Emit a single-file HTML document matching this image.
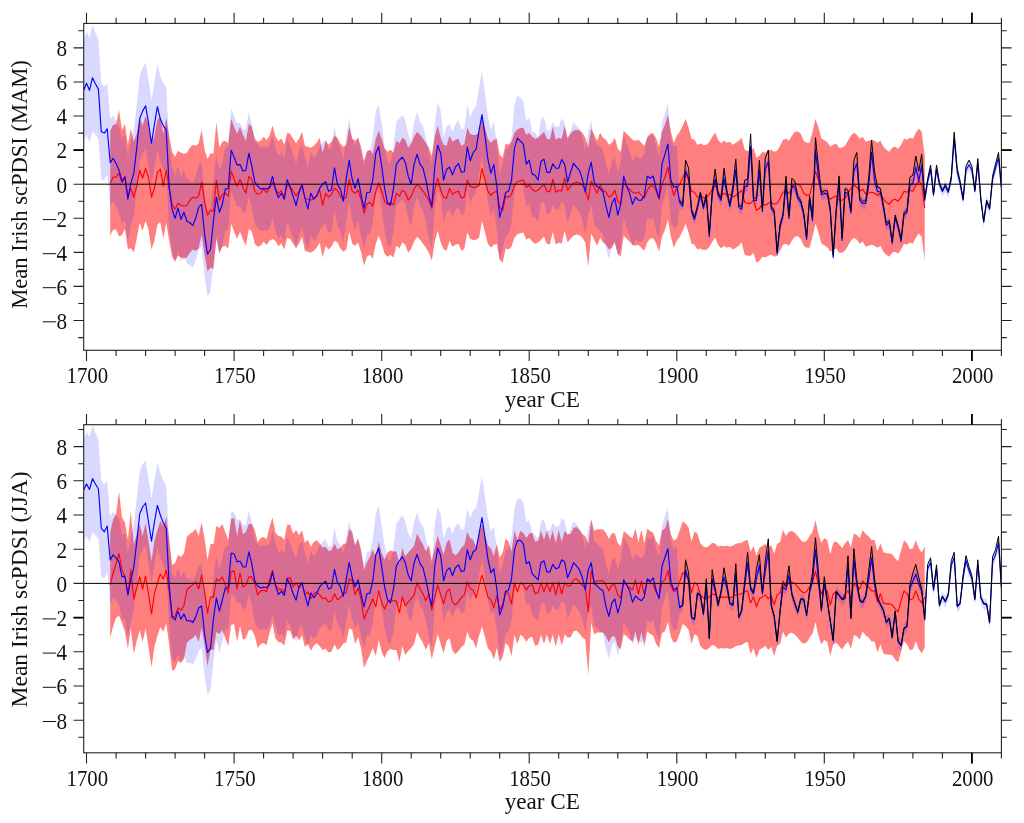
<!DOCTYPE html>
<html><head><meta charset="utf-8"><title>Mean Irish scPDSI</title>
<style>
html,body{margin:0;padding:0;background:#fff;}
body{width:1024px;height:823px;overflow:hidden;}
svg{display:block;}
text{font-family:"Liberation Serif",serif;font-size:21.2px;fill:#111;}
</style></head><body>
<svg width="1024" height="823" viewBox="0 0 1024 823">
<defs><filter id="gs" x="0" y="0" width="1024" height="823" filterUnits="userSpaceOnUse" color-interpolation-filters="sRGB"><feColorMatrix type="saturate" values="0"/></filter></defs>
<rect width="1024" height="823" fill="#fff"/>
<clipPath id="c1"><rect x="83.7" y="23.4" width="917.7" height="326.9"/></clipPath>
<g clip-path="url(#c1)">
<polygon points="110.2,130.7 113.1,124.7 116.1,124.4 119.0,109.7 122.0,130.2 124.9,123.7 127.9,144.7 130.8,128.6 133.8,141.8 136.7,133.8 139.7,117.7 142.6,125.8 145.6,115.7 148.5,124.7 151.5,144.7 154.4,135.8 157.4,119.8 160.3,116.7 163.3,133.8 166.2,117.7 169.2,135.8 172.1,151.8 175.1,156.8 178.0,150.8 181.0,152.7 183.9,153.7 186.9,152.7 189.8,147.7 192.8,144.7 195.7,145.7 198.7,143.6 201.6,129.7 204.6,149.8 207.5,159.0 210.5,153.2 213.5,153.4 216.4,122.2 219.4,147.7 222.3,141.8 225.3,140.7 228.2,143.6 231.2,118.8 234.1,126.8 237.1,133.8 240.0,126.8 243.0,134.8 245.9,140.7 248.9,123.7 251.8,126.8 254.8,138.7 257.7,141.8 260.7,140.7 263.6,136.7 266.6,140.1 269.5,135.8 272.5,125.4 275.4,136.1 278.4,141.3 281.3,138.2 284.3,144.7 287.2,132.7 290.2,133.8 293.1,138.7 296.1,143.3 299.0,138.7 302.0,131.7 304.9,145.7 307.9,146.7 310.8,147.7 313.8,145.7 316.7,142.8 319.7,137.7 322.6,152.7 325.6,140.7 328.5,144.7 331.5,141.8 334.5,135.8 337.4,137.7 340.4,143.6 343.3,146.7 346.3,144.7 349.2,126.8 352.2,138.7 355.1,140.7 358.1,137.7 361.0,146.7 364.0,160.7 366.9,151.8 369.9,149.8 372.8,153.7 375.8,138.7 378.7,130.7 381.7,138.7 384.6,148.8 387.6,151.8 390.5,149.8 393.5,152.7 396.4,140.7 399.4,143.6 402.3,137.7 405.3,139.7 408.2,147.7 411.2,143.6 414.1,136.7 417.1,131.7 420.0,134.8 423.0,138.7 425.9,142.8 428.9,147.7 431.8,155.7 434.8,136.7 437.7,125.8 440.7,137.7 443.6,144.7 446.6,145.7 449.5,135.8 452.5,141.8 455.4,139.7 458.4,138.7 461.4,145.7 464.3,144.2 467.3,127.6 470.2,133.9 473.2,135.0 476.1,134.8 479.1,132.7 482.0,116.0 485.0,127.6 487.9,138.7 490.9,142.8 493.8,139.7 496.8,138.7 499.7,154.7 502.7,157.8 505.6,143.6 508.6,144.7 511.5,141.8 514.5,132.7 517.4,129.3 520.4,128.3 523.3,127.6 526.3,134.8 529.2,132.7 532.2,136.7 535.1,138.7 538.1,137.7 541.0,134.8 544.0,131.7 546.9,138.7 549.9,139.4 552.8,126.8 555.8,139.7 558.7,137.7 561.7,138.7 564.6,125.8 567.6,137.7 570.5,133.8 573.5,130.7 576.4,129.7 579.4,130.2 582.4,132.7 585.3,137.7 588.3,147.7 591.2,128.6 594.2,134.8 597.1,140.7 600.1,132.7 603.0,137.7 606.0,139.7 608.9,144.7 611.9,142.8 614.8,137.7 617.8,148.8 620.7,151.8 623.7,130.7 626.6,133.8 629.6,136.7 632.5,139.7 635.5,140.7 638.4,139.7 641.4,142.8 644.3,145.7 647.3,137.7 650.2,133.4 653.2,133.3 656.1,138.2 659.1,146.7 662.0,131.7 665.0,124.7 667.9,114.7 670.9,131.7 673.8,142.8 676.8,135.8 679.7,131.7 682.7,125.8 685.6,118.8 688.6,127.6 691.5,138.7 694.5,139.7 697.4,144.7 700.4,143.6 703.4,145.0 706.3,145.0 709.3,141.9 712.2,136.8 715.2,132.4 718.1,139.9 721.1,143.3 724.0,140.7 727.0,142.8 729.9,141.8 732.9,144.7 735.8,142.8 738.8,140.7 741.7,137.7 744.7,149.8 747.6,150.8 750.6,150.8 753.5,147.7 756.5,157.8 759.4,155.7 762.4,151.8 765.3,152.7 768.3,150.8 771.2,149.8 774.2,151.8 777.1,150.8 780.1,145.7 783.0,139.7 786.0,138.7 788.9,140.7 791.9,135.8 794.8,131.7 797.8,131.4 800.7,133.8 803.7,140.7 806.6,142.8 809.6,142.8 812.5,131.7 815.5,118.8 818.4,127.6 821.4,138.5 824.3,140.2 827.3,142.3 830.3,146.7 833.2,144.7 836.2,143.6 839.1,147.7 842.1,147.7 845.0,145.7 848.0,140.7 850.9,135.8 853.9,132.7 856.8,134.8 859.8,138.7 862.7,136.7 865.7,141.8 868.6,140.7 871.6,139.7 874.5,140.7 877.5,142.8 880.4,140.7 883.4,146.7 886.3,149.8 889.3,151.8 892.2,147.7 895.2,146.7 898.1,148.8 901.1,144.7 904.0,138.7 907.0,139.7 909.9,137.7 912.9,138.7 915.8,132.7 918.8,128.6 921.7,131.7 924.7,155.7 924.7,260.7 921.7,236.7 918.8,233.6 915.8,237.7 912.9,243.7 909.9,242.6 907.0,244.7 904.0,243.7 901.1,249.6 898.1,253.7 895.2,251.7 892.2,252.7 889.3,256.8 886.3,254.7 883.4,251.7 880.4,245.7 877.5,247.8 874.5,245.7 871.6,244.7 868.6,245.7 865.7,246.7 862.7,241.6 859.8,243.7 856.8,239.8 853.9,237.7 850.9,240.8 848.0,245.7 845.0,250.7 842.1,252.7 839.1,252.7 836.2,248.6 833.2,249.6 830.3,251.7 827.3,247.2 824.3,245.2 821.4,243.5 818.4,232.6 815.5,223.7 812.5,236.7 809.6,247.8 806.6,247.8 803.7,245.7 800.7,238.7 797.8,236.3 794.8,236.7 791.9,240.8 788.9,245.7 786.0,243.7 783.0,244.7 780.1,250.7 777.1,255.8 774.2,256.8 771.2,254.7 768.3,255.8 765.3,257.6 762.4,256.8 759.4,260.7 756.5,262.8 753.5,252.7 750.6,255.8 747.6,255.8 744.7,254.7 741.7,242.6 738.8,245.7 735.8,247.8 732.9,249.6 729.9,246.7 727.0,247.8 724.0,245.7 721.1,248.3 718.1,244.9 715.2,237.4 712.2,241.8 709.3,246.9 706.3,250.0 703.4,250.0 700.4,248.6 697.4,249.6 694.5,244.7 691.5,243.7 688.6,232.6 685.6,223.7 682.7,230.7 679.7,236.7 676.8,240.8 673.8,247.8 670.9,236.7 667.9,219.6 665.0,229.7 662.0,236.7 659.1,251.7 656.1,243.2 653.2,238.2 650.2,238.4 647.3,242.6 644.3,250.7 641.4,247.8 638.4,244.7 635.5,245.7 632.5,244.7 629.6,241.6 626.6,238.7 623.7,235.7 620.7,256.8 617.8,253.7 614.8,242.6 611.9,247.8 608.9,249.6 606.0,244.7 603.0,242.6 600.1,237.7 597.1,245.7 594.2,239.8 591.2,233.6 588.3,266.8 585.3,242.6 582.4,237.7 579.4,235.1 576.4,234.6 573.5,235.7 570.5,238.7 567.6,242.6 564.6,230.7 561.7,243.7 558.7,242.6 555.8,244.7 552.8,231.7 549.9,244.4 546.9,243.7 544.0,236.7 541.0,239.8 538.1,242.6 535.1,243.7 532.2,241.6 529.2,237.7 526.3,239.8 523.3,232.6 520.4,233.3 517.4,234.3 514.5,237.7 511.5,246.7 508.6,249.6 505.6,248.6 502.7,262.8 499.7,259.7 496.8,243.7 493.8,244.7 490.9,247.8 487.9,243.7 485.0,232.6 482.0,221.0 479.1,237.7 476.1,239.8 473.2,239.9 470.2,238.9 467.3,232.6 464.3,249.1 461.4,250.7 458.4,243.7 455.4,244.7 452.5,246.7 449.5,240.8 446.6,250.7 443.6,249.6 440.7,242.6 437.7,230.7 434.8,241.6 431.8,260.7 428.9,252.7 425.9,247.8 423.0,243.7 420.0,239.8 417.1,236.7 414.1,241.6 411.2,248.6 408.2,252.7 405.3,244.7 402.3,242.6 399.4,248.6 396.4,245.7 393.5,257.6 390.5,254.7 387.6,256.8 384.6,253.7 381.7,243.7 378.7,235.7 375.8,243.7 372.8,258.7 369.9,254.7 366.9,256.8 364.0,265.7 361.0,251.7 358.1,242.6 355.1,245.7 352.2,243.7 349.2,231.7 346.3,249.6 343.3,251.7 340.4,248.6 337.4,242.6 334.5,240.8 331.5,246.7 328.5,249.6 325.6,245.7 322.6,257.6 319.7,242.6 316.7,247.8 313.8,250.7 310.8,252.7 307.9,251.7 304.9,250.7 302.0,236.7 299.0,243.7 296.1,248.3 293.1,243.7 290.2,238.7 287.2,237.7 284.3,249.6 281.3,243.2 278.4,246.2 275.4,241.1 272.5,238.9 269.5,240.8 266.6,245.0 263.6,241.6 260.7,245.7 257.7,246.7 254.8,243.7 251.8,231.7 248.9,228.7 245.9,245.7 243.0,239.8 240.0,231.7 237.1,238.7 234.1,231.7 231.2,223.7 228.2,248.6 225.3,245.7 222.3,246.7 219.4,252.7 216.4,238.0 213.5,269.2 210.5,267.4 207.5,271.4 204.6,254.7 201.6,234.6 198.7,248.6 195.7,250.7 192.8,249.6 189.8,252.7 186.9,257.6 183.9,258.7 181.0,257.6 178.0,255.8 175.1,261.7 172.1,256.8 169.2,240.8 166.2,222.7 163.3,238.7 160.3,221.7 157.4,224.8 154.4,240.8 151.5,249.6 148.5,229.7 145.6,220.7 142.6,230.7 139.7,222.7 136.7,238.7 133.8,252.5 130.8,247.9 127.9,249.6 124.9,228.7 122.0,235.1 119.0,236.5 116.1,229.4 113.1,229.7 110.2,235.7" fill="#ff0000" fill-opacity="0.5"/>
<polygon points="83.6,39.4 86.5,31.4 89.5,37.8 92.5,24.5 95.4,32.4 98.4,39.7 101.3,83.6 104.3,86.2 107.2,83.7 110.2,119.3 113.1,115.3 116.1,120.8 119.0,127.4 122.0,138.6 124.9,134.5 127.9,156.4 130.8,140.3 133.8,130.2 136.7,105.5 139.7,75.8 142.6,68.0 145.6,62.7 148.5,79.8 151.5,100.3 154.4,81.8 157.4,63.7 160.3,75.9 163.3,82.9 166.2,87.0 169.2,144.5 172.1,166.5 175.1,175.6 178.0,165.6 181.0,176.7 183.9,169.8 186.9,178.7 189.8,180.3 192.8,182.9 195.7,175.9 198.7,164.9 201.6,162.1 204.6,192.1 207.5,212.1 210.5,207.2 213.5,177.9 216.4,155.1 219.4,170.3 222.3,162.4 225.3,147.3 228.2,146.5 231.2,108.3 234.1,115.4 237.1,123.4 240.0,122.8 243.0,129.5 245.9,128.5 248.9,111.4 251.8,124.4 254.8,140.4 257.7,144.5 260.7,147.4 263.6,146.5 266.6,147.4 269.5,145.5 272.5,134.4 275.4,147.5 278.4,156.0 281.3,151.4 284.3,157.4 287.2,137.8 290.2,145.8 293.1,154.3 296.1,163.7 299.0,150.9 302.0,143.4 304.9,156.3 307.9,167.1 310.8,151.4 313.8,157.4 316.7,154.3 319.7,146.4 322.6,142.3 325.6,139.8 328.5,149.3 331.5,147.8 334.5,126.0 337.4,142.3 340.4,147.3 343.3,159.4 346.3,136.4 349.2,118.3 352.2,137.4 355.1,146.4 358.1,136.9 361.0,152.4 364.0,166.3 366.9,150.6 369.9,150.3 372.8,137.4 375.8,111.3 378.7,104.8 381.7,124.2 384.6,146.3 387.6,161.3 390.5,163.1 393.5,146.2 396.4,122.0 399.4,118.0 402.3,114.9 405.3,120.0 408.2,133.9 411.2,141.9 414.1,121.7 417.1,111.8 420.0,121.7 423.0,125.7 425.9,137.6 428.9,153.6 431.8,163.6 434.8,123.5 437.7,102.5 440.7,110.5 443.6,137.4 446.6,126.4 449.5,124.3 452.5,131.8 455.4,124.2 458.4,120.6 461.4,129.3 464.3,128.7 467.3,104.1 470.2,117.6 473.2,109.3 476.1,105.9 479.1,86.9 482.0,71.2 485.0,92.9 487.9,115.9 490.9,129.9 493.8,121.4 496.8,143.1 499.7,174.1 502.7,163.0 505.6,149.4 508.6,148.1 511.5,137.0 514.5,105.0 517.4,95.2 520.4,98.1 523.3,101.2 526.3,121.1 529.2,117.2 532.2,131.4 535.1,132.6 538.1,137.7 541.0,118.9 544.0,117.1 546.9,130.4 549.9,130.5 552.8,122.2 555.8,126.8 558.7,126.9 561.7,118.2 564.6,122.7 567.6,140.7 570.5,130.8 573.5,121.7 576.4,125.5 579.4,128.5 582.4,137.5 585.3,150.4 588.3,131.2 591.2,120.2 594.2,140.1 597.1,144.5 600.1,146.1 603.0,149.9 606.0,163.9 608.9,174.9 611.9,160.8 614.8,155.6 617.8,172.6 620.7,161.8 623.7,133.8 626.6,143.9 629.6,151.0 632.5,162.1 635.5,155.1 638.4,158.2 641.4,158.3 644.3,154.3 647.3,134.4 650.2,136.6 653.2,134.4 656.1,146.8 659.1,156.8 662.0,122.8 665.0,113.0 667.9,103.0 670.9,139.0 673.8,146.3 676.8,145.3 679.7,196.8 682.7,200.9 685.6,165.3 688.6,172.6 691.5,205.8 694.5,213.8 697.4,202.8 700.4,189.0 703.4,202.8 706.3,190.8 709.3,230.9 712.2,189.0 715.2,173.6 718.1,189.8 721.1,194.8 724.0,172.6 727.0,188.3 729.9,200.9 732.9,185.1 735.8,164.3 738.8,201.8 741.7,203.8 744.7,181.1 747.6,180.5 750.6,141.0 753.5,194.8 756.5,194.8 759.4,165.3 762.4,205.8 765.3,163.4 768.3,156.0 771.2,202.8 774.2,206.9 777.1,247.9 780.1,220.8 783.0,210.8 786.0,178.5 788.9,212.8 791.9,179.8 794.8,181.7 797.8,192.7 800.7,196.8 803.7,208.9 806.6,233.8 809.6,192.7 812.5,214.9 815.5,144.6 818.4,170.8 821.4,189.3 824.3,188.0 827.3,188.0 830.3,205.3 833.2,251.8 836.2,205.8 839.1,178.3 842.1,234.8 845.0,186.6 848.0,187.6 850.9,207.4 853.9,165.3 856.8,158.2 859.8,194.8 862.7,197.8 865.7,197.8 868.6,180.5 871.6,146.8 874.5,175.3 877.5,185.7 880.4,186.4 883.4,201.8 886.3,219.8 889.3,216.9 892.2,237.9 895.2,211.8 898.1,221.9 901.1,235.8 904.0,208.9 907.0,206.9 909.9,179.2 912.9,177.8 915.8,161.5 918.8,175.3 921.7,159.8 924.7,194.8 927.6,176.3 930.6,163.7 933.5,189.7 936.5,163.7 939.4,178.9 942.4,185.9 945.3,180.6 948.3,186.8 951.3,173.6 954.2,133.3 957.2,166.5 960.1,178.0 963.1,194.6 966.0,164.6 969.0,159.1 971.9,164.6 974.9,185.9 977.8,157.7 980.8,193.6 983.7,216.6 986.7,195.6 989.6,203.6 992.6,173.6 995.5,162.7 998.5,152.1 1001.4,182.4 1001.4,193.7 998.5,163.3 995.5,174.0 992.6,184.9 989.6,214.9 986.7,206.9 983.7,227.8 980.8,204.8 977.8,169.0 974.9,197.1 971.9,175.9 969.0,170.4 966.0,175.9 963.1,205.8 960.1,189.2 957.2,177.7 954.2,144.5 951.3,184.9 948.3,198.0 945.3,191.9 942.4,197.1 939.4,190.1 936.5,174.9 933.5,200.9 930.6,174.9 927.6,187.6 924.7,206.0 921.7,171.0 918.8,186.5 915.8,172.7 912.9,189.1 909.9,190.4 907.0,218.1 904.0,220.2 901.1,247.1 898.1,233.1 895.2,223.1 892.2,249.1 889.3,228.2 886.3,231.1 883.4,213.0 880.4,197.7 877.5,197.0 874.5,186.5 871.6,158.0 868.6,191.8 865.7,209.1 862.7,209.1 859.8,206.0 856.8,169.5 853.9,176.5 850.9,218.6 848.0,198.9 845.0,197.9 842.1,246.1 839.1,189.5 836.2,217.1 833.2,263.1 830.3,216.6 827.3,199.2 824.3,199.2 821.4,200.6 818.4,182.0 815.5,155.8 812.5,226.1 809.6,204.0 806.6,245.0 803.7,220.2 800.7,208.1 797.8,204.0 794.8,193.0 791.9,191.1 788.9,224.1 786.0,189.8 783.0,222.0 780.1,232.1 777.1,259.2 774.2,218.1 771.2,214.0 768.3,167.3 765.3,174.6 762.4,217.1 759.4,176.5 756.5,206.0 753.5,206.0 750.6,152.2 747.6,191.8 744.7,192.3 741.7,215.0 738.8,213.0 735.8,175.6 732.9,196.3 729.9,212.1 727.0,199.6 724.0,183.9 721.1,206.0 718.1,201.1 715.2,184.8 712.2,200.2 709.3,242.1 706.3,202.1 703.4,214.0 700.4,200.2 697.4,214.0 694.5,225.1 691.5,217.1 688.6,183.9 685.6,176.5 682.7,212.1 679.7,208.1 676.8,227.1 673.8,228.2 670.9,221.2 667.9,185.3 665.0,195.4 662.0,205.4 659.1,239.6 656.1,229.8 653.2,217.6 650.2,219.9 647.3,217.9 644.3,238.0 641.4,242.1 638.4,242.2 635.5,239.2 632.5,246.5 629.6,235.5 626.6,228.6 623.7,218.6 620.7,246.8 617.8,257.8 614.8,240.7 611.9,245.7 608.9,259.7 606.0,248.5 603.0,234.5 600.1,230.5 597.1,228.7 594.2,224.2 591.2,204.2 588.3,215.0 585.3,234.1 582.4,221.0 579.4,211.9 576.4,208.8 573.5,204.8 570.5,213.8 567.6,223.6 564.6,205.5 561.7,200.8 558.7,209.4 555.8,209.6 552.8,205.3 549.9,214.0 546.9,214.2 544.0,201.2 541.0,203.5 538.1,222.5 535.1,217.8 532.2,216.9 529.2,203.1 526.3,207.1 523.3,187.1 520.4,184.1 517.4,181.2 514.5,191.1 511.5,223.2 508.6,234.3 505.6,235.7 502.7,249.3 499.7,260.4 496.8,229.4 493.8,207.8 490.9,216.3 487.9,202.4 485.0,179.4 482.0,157.8 479.1,173.4 476.1,192.3 473.2,195.7 470.2,203.8 467.3,190.3 464.3,214.8 461.4,215.3 458.4,206.5 455.4,210.1 452.5,217.5 449.5,210.0 446.6,212.0 443.6,222.9 440.7,195.9 437.7,187.9 434.8,208.8 431.8,248.8 428.9,238.7 425.9,222.6 423.0,210.7 420.0,206.5 417.1,196.6 414.1,206.5 411.2,226.5 408.2,218.5 405.3,204.5 402.3,199.3 399.4,202.3 396.4,206.2 393.5,230.4 390.5,247.2 387.6,245.3 384.6,230.2 381.7,208.1 378.7,188.6 375.8,195.1 372.8,221.2 369.9,234.1 366.9,234.5 364.0,250.1 361.0,236.1 358.1,220.6 355.1,230.2 352.2,221.1 349.2,202.1 346.3,220.1 343.3,243.1 340.4,231.0 337.4,226.1 334.5,209.7 331.5,231.5 328.5,233.0 325.6,223.5 322.6,226.1 319.7,230.1 316.7,238.0 313.8,241.0 310.8,235.1 307.9,250.7 304.9,240.0 302.0,227.0 299.0,234.5 296.1,247.3 293.1,237.9 290.2,229.4 287.2,221.4 284.3,241.0 281.3,235.0 278.4,239.6 275.4,231.1 272.5,218.0 269.5,229.1 266.6,230.9 263.6,230.1 260.7,230.9 257.7,228.0 254.8,223.9 251.8,207.9 248.9,195.0 245.9,212.0 243.0,213.0 240.0,206.4 237.1,206.9 234.1,198.9 231.2,191.9 228.2,230.1 225.3,231.0 222.3,246.2 219.4,254.3 216.4,239.2 213.5,262.1 210.5,291.4 207.5,296.4 204.6,276.5 201.6,246.6 198.7,249.5 195.7,260.6 192.8,267.7 189.8,265.1 186.9,263.7 183.9,254.8 181.0,261.9 178.0,250.8 175.1,260.9 172.1,252.0 169.2,230.0 166.2,172.6 163.3,168.6 160.3,161.7 157.4,149.6 154.4,167.7 151.5,186.3 148.5,165.9 145.6,148.9 142.6,154.2 139.7,161.8 136.7,191.4 133.8,216.0 130.8,226.0 127.9,242.0 124.9,220.0 122.0,224.0 119.0,212.7 116.1,206.0 113.1,201.3 110.2,206.2 107.2,174.0 104.3,179.9 101.3,179.9 98.4,138.5 95.4,135.0 92.5,130.9 89.5,142.8 86.5,135.0 83.6,141.6" fill="#0000ff" fill-opacity="0.15"/>
<polyline points="110.2,183.2 113.1,177.2 116.1,176.9 119.0,173.1 122.0,182.7 124.9,176.2 127.9,197.2 130.8,188.3 133.8,197.2 136.7,186.2 139.7,170.2 142.6,178.2 145.6,168.2 148.5,177.2 151.5,197.2 154.4,188.3 157.4,172.3 160.3,169.2 163.3,186.2 166.2,170.2 169.2,188.3 172.1,204.3 175.1,209.2 178.0,203.3 181.0,205.2 183.9,206.2 186.9,205.2 189.8,200.2 192.8,197.2 195.7,198.2 198.7,196.1 201.6,182.2 204.6,202.3 207.5,215.2 210.5,210.3 213.5,211.3 216.4,180.1 219.4,200.2 222.3,194.3 225.3,193.2 228.2,196.1 231.2,171.2 234.1,179.3 237.1,186.2 240.0,179.3 243.0,187.3 245.9,193.2 248.9,176.2 251.8,179.3 254.8,191.2 257.7,194.3 260.7,193.2 263.6,189.1 266.6,192.5 269.5,188.3 272.5,182.2 275.4,188.6 278.4,193.7 281.3,190.7 284.3,197.2 287.2,185.2 290.2,186.2 293.1,191.2 296.1,195.8 299.0,191.2 302.0,184.2 304.9,198.2 307.9,199.2 310.8,200.2 313.8,198.2 316.7,195.3 319.7,190.2 322.6,205.2 325.6,193.2 328.5,197.2 331.5,194.3 334.5,188.3 337.4,190.2 340.4,196.1 343.3,199.2 346.3,197.2 349.2,179.3 352.2,191.2 355.1,193.2 358.1,190.2 361.0,199.2 364.0,213.2 366.9,204.3 369.9,202.3 372.8,206.2 375.8,191.2 378.7,183.2 381.7,191.2 384.6,201.2 387.6,204.3 390.5,202.3 393.5,205.2 396.4,193.2 399.4,196.1 402.3,190.2 405.3,192.2 408.2,200.2 411.2,196.1 414.1,189.1 417.1,184.2 420.0,187.3 423.0,191.2 425.9,195.3 428.9,200.2 431.8,208.2 434.8,189.1 437.7,178.2 440.7,190.2 443.6,197.2 446.6,198.2 449.5,188.3 452.5,194.3 455.4,192.2 458.4,191.2 461.4,198.2 464.3,196.6 467.3,180.1 470.2,186.4 473.2,187.4 476.1,187.3 479.1,185.2 482.0,168.5 485.0,180.1 487.9,191.2 490.9,195.3 493.8,192.2 496.8,191.2 499.7,207.2 502.7,210.3 505.6,196.1 508.6,197.2 511.5,194.3 514.5,185.2 517.4,181.8 520.4,180.8 523.3,180.1 526.3,187.3 529.2,185.2 532.2,189.1 535.1,191.2 538.1,190.2 541.0,187.3 544.0,184.2 546.9,191.2 549.9,191.9 552.8,179.3 555.8,192.2 558.7,190.2 561.7,191.2 564.6,178.2 567.6,190.2 570.5,186.2 573.5,183.2 576.4,182.2 579.4,182.7 582.4,185.2 585.3,190.2 588.3,200.2 591.2,181.1 594.2,187.3 597.1,193.2 600.1,185.2 603.0,190.2 606.0,192.2 608.9,197.2 611.9,195.3 614.8,190.2 617.8,201.2 620.7,204.3 623.7,183.2 626.6,186.2 629.6,189.1 632.5,192.2 635.5,193.2 638.4,192.2 641.4,195.3 644.3,198.2 647.3,190.2 650.2,185.9 653.2,185.7 656.1,190.7 659.1,199.2 662.0,184.2 665.0,177.2 667.9,167.2 670.9,184.2 673.8,195.3 676.8,188.3 679.7,184.2 682.7,178.2 685.6,171.2 688.6,180.1 691.5,191.2 694.5,192.2 697.4,197.2 700.4,196.1 703.4,197.5 706.3,197.5 709.3,194.4 712.2,189.3 715.2,184.9 718.1,192.4 721.1,195.8 724.0,193.2 727.0,195.3 729.9,194.3 732.9,197.2 735.8,195.3 738.8,193.2 741.7,190.2 744.7,202.3 747.6,203.3 750.6,203.3 753.5,200.2 756.5,210.3 759.4,208.2 762.4,204.3 765.3,205.2 768.3,203.3 771.2,202.3 774.2,204.3 777.1,203.3 780.1,198.2 783.0,192.2 786.0,191.2 788.9,193.2 791.9,188.3 794.8,184.2 797.8,183.9 800.7,186.2 803.7,193.2 806.6,195.3 809.6,195.3 812.5,184.2 815.5,171.2 818.4,180.1 821.4,191.0 824.3,192.7 827.3,194.8 830.3,199.2 833.2,197.2 836.2,196.1 839.1,200.2 842.1,200.2 845.0,198.2 848.0,193.2 850.9,188.3 853.9,185.2 856.8,187.3 859.8,191.2 862.7,189.1 865.7,194.3 868.6,193.2 871.6,192.2 874.5,193.2 877.5,195.3 880.4,193.2 883.4,199.2 886.3,202.3 889.3,204.3 892.2,200.2 895.2,199.2 898.1,201.2 901.1,197.2 904.0,191.2 907.0,192.2 909.9,190.2 912.9,191.2 915.8,185.2 918.8,181.1 921.7,184.2 924.7,208.2" fill="none" stroke="#ff0000" stroke-width="1.15" stroke-linejoin="round"/>
<polyline points="83.6,90.5 86.5,83.2 89.5,90.3 92.5,77.7 95.4,83.7 98.4,89.1 101.3,131.7 104.3,133.1 107.2,128.8 110.2,162.7 113.1,158.3 116.1,163.4 119.0,170.1 122.0,181.3 124.9,177.2 127.9,199.2 130.8,183.2 133.8,173.1 136.7,148.4 139.7,118.8 142.6,111.1 145.6,105.8 148.5,122.9 151.5,143.3 154.4,124.7 157.4,106.7 160.3,118.8 163.3,125.8 166.2,129.8 169.2,187.3 172.1,209.2 175.1,218.3 178.0,208.2 181.0,219.3 183.9,212.3 186.9,221.2 189.8,222.7 192.8,225.3 195.7,218.3 198.7,207.2 201.6,204.3 204.6,234.3 207.5,254.2 210.5,249.3 213.5,220.0 216.4,197.2 219.4,212.3 222.3,204.3 225.3,189.1 228.2,188.3 231.2,150.1 234.1,157.1 237.1,165.1 240.0,164.6 243.0,171.2 245.9,170.2 248.9,153.2 251.8,166.1 254.8,182.2 257.7,186.2 260.7,189.1 263.6,188.3 266.6,189.1 269.5,187.3 272.5,176.2 275.4,189.3 278.4,197.8 281.3,193.2 284.3,199.2 287.2,179.6 290.2,187.6 293.1,196.1 296.1,205.5 299.0,192.7 302.0,185.2 304.9,198.2 307.9,208.9 310.8,193.2 313.8,199.2 316.7,196.1 319.7,188.3 322.6,184.2 325.6,181.6 328.5,191.2 331.5,189.7 334.5,167.8 337.4,184.2 340.4,189.1 343.3,201.2 346.3,178.2 349.2,160.2 352.2,179.3 355.1,188.3 358.1,178.7 361.0,194.3 364.0,208.2 366.9,192.5 369.9,192.2 372.8,179.3 375.8,153.2 378.7,146.7 381.7,166.1 384.6,188.3 387.6,203.3 390.5,205.2 393.5,188.3 396.4,164.1 399.4,160.2 402.3,157.1 405.3,162.2 408.2,176.2 411.2,184.2 414.1,164.1 417.1,154.2 420.0,164.1 423.0,168.2 425.9,180.1 428.9,196.1 431.8,206.2 434.8,166.1 437.7,145.2 440.7,153.2 443.6,180.1 446.6,169.2 449.5,167.2 452.5,174.7 455.4,167.2 458.4,163.6 461.4,172.3 464.3,171.8 467.3,147.2 470.2,160.7 473.2,152.5 476.1,149.1 479.1,130.2 482.0,114.5 485.0,136.1 487.9,159.2 490.9,173.1 493.8,164.6 496.8,186.2 499.7,217.3 502.7,206.2 505.6,192.5 508.6,191.2 511.5,180.1 514.5,148.1 517.4,138.2 520.4,141.1 523.3,144.2 526.3,164.1 529.2,160.2 532.2,174.1 535.1,175.2 538.1,180.1 541.0,161.2 544.0,159.2 546.9,172.3 549.9,172.3 552.8,163.8 555.8,168.2 558.7,168.2 561.7,159.5 564.6,164.1 567.6,182.2 570.5,172.3 573.5,163.2 576.4,167.2 579.4,170.2 582.4,179.3 585.3,192.2 588.3,173.1 591.2,162.2 594.2,182.2 597.1,186.6 600.1,188.3 603.0,192.2 606.0,206.2 608.9,217.3 611.9,203.3 614.8,198.2 617.8,215.2 620.7,204.3 623.7,176.2 626.6,186.2 629.6,193.2 632.5,204.3 635.5,197.2 638.4,200.2 641.4,200.2 644.3,196.1 647.3,176.2 650.2,178.2 653.2,176.0 656.1,188.3 659.1,198.2 662.0,164.1 665.0,154.2 667.9,144.2 670.9,180.1 673.8,187.3 676.8,186.2 679.7,202.4 682.7,206.5 685.6,170.9 688.6,178.3 691.5,211.5 694.5,219.5 697.4,208.4 700.4,194.6 703.4,208.4 706.3,196.5 709.3,236.5 712.2,194.6 715.2,179.2 718.1,195.4 721.1,200.4 724.0,178.3 727.0,193.9 729.9,206.5 732.9,190.7 735.8,169.9 738.8,207.4 741.7,209.4 744.7,186.7 747.6,186.1 750.6,146.6 753.5,200.4 756.5,200.4 759.4,170.9 762.4,211.5 765.3,169.0 768.3,161.6 771.2,208.4 774.2,212.5 777.1,253.6 780.1,226.5 783.0,216.4 786.0,184.1 788.9,218.5 791.9,185.5 794.8,187.4 797.8,198.3 800.7,202.4 803.7,214.5 806.6,239.4 809.6,198.3 812.5,220.5 815.5,150.2 818.4,176.4 821.4,194.9 824.3,193.6 827.3,193.6 830.3,211.0 833.2,257.5 836.2,211.5 839.1,183.9 842.1,240.4 845.0,192.3 848.0,193.3 850.9,213.0 853.9,170.9 856.8,163.8 859.8,200.4 862.7,203.5 865.7,203.5 868.6,186.1 871.6,152.4 874.5,180.9 877.5,191.4 880.4,192.0 883.4,207.4 886.3,225.4 889.3,222.5 892.2,243.5 895.2,217.4 898.1,227.5 901.1,241.5 904.0,214.5 907.0,212.5 909.9,184.8 912.9,183.5 915.8,167.1 918.8,180.9 921.7,165.4 924.7,200.4 927.6,181.9 930.6,169.3 933.5,195.3 936.5,169.3 939.4,184.5 942.4,191.5 945.3,186.3 948.3,192.4 951.3,179.2 954.2,138.9 957.2,172.1 960.1,183.6 963.1,200.2 966.0,170.2 969.0,164.8 971.9,170.2 974.9,191.5 977.8,163.3 980.8,199.2 983.7,222.2 986.7,201.2 989.6,209.2 992.6,179.2 995.5,168.4 998.5,157.7 1001.4,188.1" fill="none" stroke="#0000ff" stroke-width="1.15" stroke-linejoin="round"/>
<polyline points="679.7,200.2 682.7,204.3 685.6,160.2 688.6,168.2 691.5,209.2 694.5,217.3 697.4,206.2 700.4,192.2 703.4,206.2 706.3,194.3 709.3,234.3 712.2,192.2 715.2,169.2 718.1,193.2 721.1,198.2 724.0,168.2 727.0,191.2 729.9,204.3 732.9,186.2 735.8,159.2 738.8,205.2 741.7,207.2 744.7,180.1 747.6,179.3 750.6,133.8 753.5,198.2 756.5,198.2 759.4,160.2 762.4,209.2 765.3,158.1 768.3,150.1 771.2,206.2 774.2,210.3 777.1,251.3 780.1,224.2 783.0,214.2 786.0,176.2 788.9,216.2 791.9,178.2 794.8,181.1 797.8,196.1 800.7,200.2 803.7,212.3 806.6,237.2 809.6,196.1 812.5,218.3 815.5,137.7 818.4,166.1 821.4,192.7 824.3,190.7 827.3,190.7 830.3,208.7 833.2,255.3 836.2,209.2 839.1,175.9 842.1,238.2 845.0,188.6 848.0,190.2 850.9,210.8 853.9,160.2 856.8,152.5 859.8,198.2 862.7,201.2 865.7,201.2 868.6,179.3 871.6,140.1 874.5,171.2 877.5,187.3 880.4,188.3 883.4,205.2 886.3,223.2 889.3,220.3 892.2,241.3 895.2,215.2 898.1,225.3 901.1,239.2 904.0,212.3 907.0,210.3 909.9,177.2 912.9,175.2 915.8,156.1 918.8,171.2 921.7,154.2 924.7,198.2 927.6,179.3 930.6,165.1 933.5,194.3 936.5,165.1 939.4,182.2 942.4,190.2 945.3,184.2 948.3,191.2 951.3,176.2 954.2,132.1 957.2,168.2 960.1,181.1 963.1,199.2 966.0,166.1 969.0,160.2 971.9,166.1 974.9,190.2 977.8,158.6 980.8,198.2 983.7,221.2 986.7,200.2 989.6,208.2 992.6,176.2 995.5,164.1 998.5,152.5 1001.4,186.2" fill="none" stroke="#000000" stroke-width="1.0" stroke-linejoin="round"/>
<line x1="83.7" y1="184.2" x2="1001.4" y2="184.2" stroke="#000" stroke-width="1"/>
</g>
<rect x="83.7" y="23.4" width="917.7" height="326.9" fill="none" stroke="#222" stroke-width="1.1"/>
<path d="M86.5 23.4V12.8M86.5 350.3V360.9M116.1 23.4V17.8M116.1 350.3V355.9M145.6 23.4V17.8M145.6 350.3V355.9M175.1 23.4V17.8M175.1 350.3V355.9M204.6 23.4V17.8M204.6 350.3V355.9M234.1 23.4V12.8M234.1 350.3V360.9M263.6 23.4V17.8M263.6 350.3V355.9M293.1 23.4V17.8M293.1 350.3V355.9M322.6 23.4V17.8M322.6 350.3V355.9M352.2 23.4V17.8M352.2 350.3V355.9M381.7 23.4V12.8M381.7 350.3V360.9M411.2 23.4V17.8M411.2 350.3V355.9M440.7 23.4V17.8M440.7 350.3V355.9M470.2 23.4V17.8M470.2 350.3V355.9M499.7 23.4V17.8M499.7 350.3V355.9M529.2 23.4V12.8M529.2 350.3V360.9M558.7 23.4V17.8M558.7 350.3V355.9M588.3 23.4V17.8M588.3 350.3V355.9M617.8 23.4V17.8M617.8 350.3V355.9M647.3 23.4V17.8M647.3 350.3V355.9M676.8 23.4V12.8M676.8 350.3V360.9M706.3 23.4V17.8M706.3 350.3V355.9M735.8 23.4V17.8M735.8 350.3V355.9M765.3 23.4V17.8M765.3 350.3V355.9M794.8 23.4V17.8M794.8 350.3V355.9M824.3 23.4V12.8M824.3 350.3V360.9M853.9 23.4V17.8M853.9 350.3V355.9M883.4 23.4V17.8M883.4 350.3V355.9M912.9 23.4V17.8M912.9 350.3V355.9M942.4 23.4V17.8M942.4 350.3V355.9M971.9 23.4V12.8M971.9 350.3V360.9M1001.4 23.4V17.8M1001.4 350.3V355.9M83.7 337.6H78.3M1001.4 337.6H1006.8M83.7 320.5H73.5M1001.4 320.5H1011.6M83.7 303.5H78.3M1001.4 303.5H1006.8M83.7 286.4H73.5M1001.4 286.4H1011.6M83.7 269.4H78.3M1001.4 269.4H1006.8M83.7 252.4H73.5M1001.4 252.4H1011.6M83.7 235.3H78.3M1001.4 235.3H1006.8M83.7 218.3H73.5M1001.4 218.3H1011.6M83.7 201.2H78.3M1001.4 201.2H1006.8M83.7 184.2H73.5M1001.4 184.2H1011.6M83.7 167.2H78.3M1001.4 167.2H1006.8M83.7 150.1H73.5M1001.4 150.1H1011.6M83.7 133.1H78.3M1001.4 133.1H1006.8M83.7 116.0H73.5M1001.4 116.0H1011.6M83.7 99.0H78.3M1001.4 99.0H1006.8M83.7 82.0H73.5M1001.4 82.0H1011.6M83.7 64.9H78.3M1001.4 64.9H1006.8M83.7 47.9H73.5M1001.4 47.9H1011.6M83.7 30.8H78.3M1001.4 30.8H1006.8" stroke="#222" stroke-width="1.1" fill="none"/>
<path d="M83.7 150.1H73.5M1001.4 150.1H1011.6M971.9 23.4V12.8M971.9 350.3V360.9" stroke="#000" stroke-width="1.7" fill="none"/>
<g filter="url(#gs)">
<text transform="translate(87.3,383.3) scale(1,1.065)" text-anchor="middle" textLength="41.6" lengthAdjust="spacingAndGlyphs">1700</text>
<text transform="translate(234.9,383.3) scale(1,1.065)" text-anchor="middle" textLength="41.6" lengthAdjust="spacingAndGlyphs">1750</text>
<text transform="translate(382.5,383.3) scale(1,1.065)" text-anchor="middle" textLength="41.6" lengthAdjust="spacingAndGlyphs">1800</text>
<text transform="translate(530.0,383.3) scale(1,1.065)" text-anchor="middle" textLength="41.6" lengthAdjust="spacingAndGlyphs">1850</text>
<text transform="translate(677.6,383.3) scale(1,1.065)" text-anchor="middle" textLength="41.6" lengthAdjust="spacingAndGlyphs">1900</text>
<text transform="translate(825.1,383.3) scale(1,1.065)" text-anchor="middle" textLength="41.6" lengthAdjust="spacingAndGlyphs">1950</text>
<text transform="translate(972.7,383.3) scale(1,1.065)" text-anchor="middle" textLength="41.6" lengthAdjust="spacingAndGlyphs">2000</text>
<text transform="translate(67.2,328.8) scale(1,1.065)" text-anchor="end">8</text>
<line x1="42.8" x2="56.2" y1="321.8" y2="321.8" stroke="#111" stroke-width="1"/>
<text transform="translate(67.2,294.7) scale(1,1.065)" text-anchor="end">6</text>
<line x1="42.8" x2="56.2" y1="287.7" y2="287.7" stroke="#111" stroke-width="1"/>
<text transform="translate(67.2,260.7) scale(1,1.065)" text-anchor="end">4</text>
<line x1="42.8" x2="56.2" y1="253.7" y2="253.7" stroke="#111" stroke-width="1"/>
<text transform="translate(67.2,226.6) scale(1,1.065)" text-anchor="end">2</text>
<line x1="42.8" x2="56.2" y1="219.6" y2="219.6" stroke="#111" stroke-width="1"/>
<text transform="translate(67.2,192.5) scale(1,1.065)" text-anchor="end">0</text>
<text transform="translate(67.2,158.4) scale(1,1.065)" text-anchor="end">2</text>
<text transform="translate(67.2,124.3) scale(1,1.065)" text-anchor="end">4</text>
<text transform="translate(67.2,90.3) scale(1,1.065)" text-anchor="end">6</text>
<text transform="translate(67.2,56.2) scale(1,1.065)" text-anchor="end">8</text>
<text transform="translate(542.3,406.6) scale(1,1.065)" text-anchor="middle" textLength="75.2" lengthAdjust="spacingAndGlyphs">year CE</text>
<text transform="translate(26.5,184.5) rotate(-90) scale(1,1.065)" text-anchor="middle" textLength="248.5" lengthAdjust="spacingAndGlyphs">Mean Irish scPDSI (MAM)</text>
</g>
<clipPath id="c2"><rect x="83.7" y="424.7" width="917.7" height="328.1"/></clipPath>
<g clip-path="url(#c2)">
<polygon points="110.2,531.9 113.1,519.5 116.1,514.1 119.0,491.6 122.0,517.6 124.9,522.2 127.9,539.3 130.8,511.8 133.8,544.2 136.7,535.0 139.7,523.9 142.6,536.0 145.6,523.0 148.5,541.0 151.5,561.0 154.4,541.0 157.4,530.0 160.3,521.0 163.3,525.9 166.2,516.9 169.2,538.9 172.1,565.1 175.1,563.1 178.0,555.0 181.0,557.1 183.9,553.0 186.9,537.1 189.8,534.0 192.8,531.9 195.7,529.0 198.7,536.0 201.6,522.0 204.6,538.9 207.5,560.0 210.5,544.1 213.5,544.1 216.4,525.9 219.4,528.0 222.3,523.9 225.3,531.9 228.2,540.0 231.2,518.9 234.1,517.9 237.1,536.0 240.0,520.0 243.0,534.0 245.9,531.9 248.9,523.9 251.8,523.9 254.8,530.0 257.7,542.0 260.7,537.9 263.6,537.1 266.6,538.9 269.5,527.0 272.5,517.4 275.4,532.4 278.4,535.9 281.3,536.4 284.3,539.8 287.2,524.7 290.2,524.7 293.1,533.8 296.1,529.9 299.0,535.2 302.0,530.3 304.9,542.6 307.9,539.7 310.8,546.9 313.8,542.1 316.7,540.3 319.7,543.5 322.6,547.7 325.6,546.8 328.5,551.1 331.5,550.3 334.5,543.5 337.4,549.6 340.4,547.8 343.3,544.0 346.3,543.2 349.2,529.3 352.2,531.6 355.1,545.6 358.1,538.6 361.0,549.5 364.0,569.7 366.9,562.5 369.9,556.6 372.8,549.5 375.8,557.6 378.7,541.5 381.7,553.6 384.6,559.6 387.6,552.6 390.5,550.6 393.5,551.6 396.4,551.6 399.4,563.6 402.3,547.7 405.3,556.6 408.2,552.6 411.2,549.5 414.1,545.6 417.1,533.5 420.0,539.6 423.0,544.6 425.9,551.6 428.9,544.6 431.8,560.7 434.8,547.7 437.7,535.5 440.7,545.6 443.6,554.7 446.6,542.5 449.5,539.6 452.5,552.6 455.4,555.5 458.4,552.4 461.4,547.8 464.3,545.0 467.3,531.8 470.2,538.3 473.2,539.8 476.1,547.2 479.1,534.0 482.0,524.2 485.0,534.6 487.9,545.5 490.9,548.2 493.8,556.1 496.8,543.9 499.7,557.8 502.7,552.6 505.6,538.6 508.6,541.7 511.5,551.8 514.5,530.6 517.4,539.7 520.4,530.7 523.3,532.7 526.3,537.9 529.2,533.8 532.2,532.8 535.1,541.8 538.1,540.8 541.0,530.8 544.0,539.8 546.9,530.8 549.9,539.9 552.8,530.8 555.8,543.0 558.7,530.0 561.7,542.0 564.6,530.9 567.6,534.0 570.5,534.0 573.5,528.0 576.4,527.0 579.4,530.1 582.4,534.0 585.3,536.1 588.3,544.1 591.2,519.0 594.2,531.0 597.1,529.2 600.1,529.2 603.0,529.2 606.0,533.1 608.9,539.1 611.9,533.2 614.8,533.2 617.8,543.3 620.7,546.2 623.7,531.2 626.6,533.2 629.6,536.3 632.5,538.4 635.5,528.3 638.4,542.3 641.4,529.4 644.3,543.4 647.3,528.4 650.2,531.1 653.2,532.8 656.1,540.9 659.1,545.4 662.0,530.5 665.0,528.5 667.9,519.1 670.9,534.5 673.8,540.5 676.8,538.6 679.7,530.6 682.7,521.5 685.6,523.6 688.6,527.5 691.5,541.6 694.5,531.5 697.4,533.5 700.4,543.6 703.4,546.6 706.3,547.6 709.3,545.7 712.2,542.7 715.2,543.7 718.1,546.6 721.1,545.8 724.0,546.3 727.0,545.8 729.9,546.6 732.9,545.8 735.8,543.8 738.8,543.3 741.7,542.8 744.7,540.7 747.6,539.7 750.6,551.8 753.5,545.9 756.5,555.8 759.4,547.8 762.4,545.9 765.3,543.9 768.3,547.8 771.2,544.9 774.2,553.8 777.1,543.9 780.1,541.9 783.0,529.9 786.0,535.9 788.9,531.8 791.9,531.0 794.8,532.8 797.8,535.9 800.7,539.9 803.7,541.9 806.6,540.9 809.6,536.0 812.5,531.9 815.5,520.3 818.4,534.0 821.4,542.9 824.3,538.1 827.3,540.3 830.3,554.3 833.2,543.1 836.2,541.2 839.1,544.6 842.1,548.1 845.0,543.6 848.0,540.0 850.9,547.6 853.9,533.6 856.8,535.1 859.8,538.2 862.7,530.2 865.7,534.1 868.6,536.2 871.6,540.1 874.5,540.1 877.5,551.3 880.4,543.2 883.4,552.3 886.3,553.3 889.3,553.4 892.2,554.2 895.2,558.3 898.1,561.2 901.1,550.3 904.0,540.2 907.0,543.3 909.9,549.3 912.9,548.3 915.8,540.3 918.8,548.3 921.7,552.4 924.7,546.5 924.7,647.4 921.7,653.3 918.8,649.3 915.8,641.2 912.9,649.3 909.9,650.3 907.0,644.3 904.0,641.3 901.1,651.4 898.1,662.3 895.2,659.4 892.2,655.3 889.3,654.5 886.3,654.5 883.4,653.5 880.4,644.4 877.5,652.5 874.5,641.4 871.6,641.4 868.6,637.5 865.7,635.4 862.7,631.5 859.8,639.5 856.8,636.5 853.9,634.9 850.9,649.0 848.0,641.5 845.0,645.1 842.1,649.5 839.1,646.1 836.2,642.7 833.2,644.6 830.3,655.9 827.3,641.9 824.3,639.7 821.4,644.5 818.4,635.6 815.5,621.9 812.5,633.5 809.6,637.7 806.6,642.6 803.7,643.7 800.7,641.6 797.8,637.7 794.8,634.6 791.9,632.8 788.9,633.6 786.0,637.7 783.0,631.8 780.1,643.7 777.1,645.8 774.2,655.7 771.2,646.9 768.3,649.8 765.3,645.9 762.4,647.9 759.4,649.8 756.5,657.9 753.5,647.9 750.6,653.9 747.6,641.8 744.7,642.8 741.7,644.9 738.8,645.4 735.8,646.0 732.9,648.0 729.9,648.9 727.0,648.0 724.0,648.6 721.1,648.1 718.1,648.9 715.2,646.0 712.2,645.0 709.3,648.1 706.3,650.0 703.4,649.0 700.4,646.1 697.4,636.0 694.5,634.0 691.5,644.1 688.6,630.0 685.6,626.1 682.7,624.1 679.7,633.2 676.8,641.2 673.8,643.1 670.9,637.1 667.9,621.7 665.0,631.2 662.0,633.2 659.1,648.1 656.1,643.7 653.2,635.7 650.2,634.0 647.3,631.3 644.3,646.3 641.4,632.3 638.4,645.3 635.5,631.3 632.5,641.4 629.6,639.4 626.6,636.3 623.7,634.3 620.7,649.3 617.8,646.4 614.8,636.4 611.9,636.4 608.9,642.4 606.0,636.4 603.0,632.5 600.1,632.5 597.1,632.5 594.2,634.4 591.2,622.5 588.3,674.9 585.3,639.6 582.4,637.5 579.4,633.6 576.4,630.6 573.5,631.6 570.5,637.6 567.6,637.6 564.6,634.6 561.7,645.7 558.7,633.7 555.8,646.7 552.8,634.6 549.9,643.7 546.9,634.6 544.0,643.7 541.0,634.7 538.1,644.8 535.1,645.8 532.2,636.8 529.2,637.8 526.3,641.9 523.3,636.8 520.4,634.8 517.4,643.8 514.5,634.8 511.5,656.0 508.6,645.9 505.6,642.9 502.7,656.9 499.7,662.1 496.8,647.8 493.8,659.6 490.9,651.4 487.9,648.3 485.0,637.0 482.0,626.2 479.1,635.6 476.1,648.4 473.2,640.7 470.2,638.7 467.3,631.9 464.3,644.7 461.4,647.1 458.4,651.3 455.4,654.0 452.5,651.1 449.5,638.1 446.6,641.0 443.6,653.2 440.7,644.1 437.7,634.0 434.8,646.2 431.8,659.2 428.9,643.1 425.9,650.1 423.0,643.1 420.0,638.1 417.1,632.0 414.1,644.1 411.2,648.0 408.2,651.1 405.3,655.0 402.3,646.2 399.4,662.1 396.4,650.1 393.5,650.1 390.5,649.1 387.6,651.1 384.6,658.1 381.7,652.1 378.7,640.0 375.8,656.1 372.8,648.0 369.9,655.0 366.9,661.0 364.0,668.2 361.0,648.0 358.1,637.1 355.1,644.1 352.2,630.1 349.2,628.2 346.3,642.4 343.3,643.6 340.4,647.8 337.4,650.0 334.5,644.2 331.5,651.4 328.5,652.6 325.6,648.7 322.6,649.9 319.7,646.2 316.7,643.3 313.8,645.5 310.8,650.7 307.9,643.8 304.9,647.1 302.0,635.2 299.0,640.5 296.1,635.5 293.1,639.8 290.2,630.8 287.2,630.8 284.3,645.8 281.3,642.4 278.4,641.9 275.4,638.5 272.5,623.4 269.5,633.0 266.6,645.0 263.6,643.1 260.7,643.9 257.7,648.0 254.8,636.1 251.8,629.9 248.9,629.9 245.9,637.9 243.0,640.0 240.0,626.0 237.1,642.1 234.1,623.9 231.2,625.0 228.2,646.0 225.3,637.9 222.3,629.9 219.4,634.0 216.4,632.0 213.5,650.1 210.5,650.1 207.5,666.0 204.6,645.0 201.6,628.0 198.7,642.1 195.7,635.0 192.8,637.9 189.8,640.0 186.9,643.1 183.9,659.0 181.0,663.1 178.0,661.0 175.1,669.1 172.1,671.1 169.2,645.0 166.2,622.9 163.3,632.0 160.3,627.0 157.4,636.1 154.4,647.0 151.5,667.0 148.5,647.0 145.6,629.1 142.6,642.1 139.7,629.9 136.7,641.0 133.8,653.7 130.8,628.0 127.9,648.7 124.9,631.6 122.0,622.9 119.0,615.4 116.1,617.8 113.1,626.4 110.2,637.9" fill="#ff0000" fill-opacity="0.5"/>
<polygon points="83.6,438.7 86.5,432.1 89.5,436.9 92.5,425.2 95.4,432.6 98.4,439.4 101.3,479.9 104.3,484.7 107.2,480.8 110.2,516.4 113.1,511.7 116.1,515.2 119.0,519.1 122.0,534.2 124.9,533.3 127.9,552.3 130.8,537.2 133.8,524.4 136.7,499.4 139.7,471.4 142.6,464.2 145.6,460.3 148.5,479.3 151.5,498.5 154.4,479.4 157.4,462.8 160.3,472.4 163.3,480.5 166.2,485.7 169.2,542.5 172.1,573.6 175.1,577.6 178.0,568.7 181.0,576.8 183.9,571.7 186.9,578.7 189.8,578.3 192.8,580.2 195.7,574.9 198.7,565.9 201.6,563.9 204.6,591.9 207.5,610.5 210.5,606.2 213.5,576.1 216.4,556.0 219.4,569.2 222.3,558.1 225.3,546.2 228.2,545.9 231.2,511.2 234.1,512.3 237.1,520.1 240.0,519.3 243.0,525.2 245.9,525.2 248.9,510.2 251.8,522.2 254.8,539.3 257.7,544.2 260.7,546.3 263.6,545.2 266.6,545.9 269.5,543.2 272.5,530.0 275.4,543.0 278.4,552.7 281.3,549.7 284.3,553.6 287.2,537.0 290.2,543.0 293.1,552.0 296.1,558.4 299.0,545.0 302.0,540.9 304.9,553.1 307.9,564.0 310.8,551.0 313.8,555.9 316.7,552.0 319.7,545.0 322.6,541.9 325.6,539.3 328.5,547.0 331.5,546.0 334.5,527.4 337.4,540.9 340.4,545.0 343.3,554.5 346.3,536.9 349.2,520.5 352.2,535.9 355.1,545.0 358.1,537.9 361.0,552.0 364.0,565.0 366.9,552.0 369.9,551.3 372.8,539.0 375.8,512.8 378.7,506.3 381.7,524.9 384.6,544.9 387.6,557.9 390.5,561.0 393.5,547.0 396.4,523.9 399.4,519.0 402.3,514.9 405.3,520.9 408.2,533.0 411.2,539.0 414.1,520.9 417.1,512.5 420.0,522.0 423.0,526.1 425.9,538.0 428.9,553.1 431.8,564.1 434.8,524.0 437.7,506.6 440.7,514.0 443.6,539.1 446.6,529.0 449.5,526.1 452.5,534.0 455.4,526.2 458.4,523.1 461.4,529.8 464.3,529.1 467.3,508.1 470.2,518.2 473.2,510.1 476.1,508.1 479.1,492.0 482.0,476.0 485.0,496.1 487.9,517.2 490.9,531.2 493.8,527.1 496.8,547.3 499.7,573.3 502.7,565.3 505.6,550.2 508.6,548.4 511.5,537.3 514.5,508.2 517.4,499.1 520.4,498.8 523.3,502.2 526.3,522.3 529.2,520.2 532.2,532.4 535.1,535.3 538.1,538.4 541.0,521.3 544.0,519.4 546.9,530.4 549.9,530.4 552.8,523.0 555.8,527.3 558.7,526.5 561.7,518.4 564.6,520.2 567.6,536.2 570.5,529.1 573.5,521.0 576.4,524.0 579.4,527.9 582.4,535.8 585.3,547.9 588.3,527.7 591.2,520.6 594.2,541.5 597.1,543.5 600.1,546.5 603.0,548.3 606.0,564.4 608.9,573.9 611.9,560.3 614.8,556.1 617.8,570.1 620.7,560.2 623.7,537.2 626.6,542.2 629.6,548.3 632.5,559.8 635.5,553.5 638.4,556.5 641.4,558.6 644.3,554.8 647.3,536.7 650.2,539.4 653.2,535.9 656.1,548.5 659.1,557.1 662.0,524.7 665.0,515.8 667.9,507.3 670.9,540.6 673.8,548.8 676.8,546.8 679.7,602.0 682.7,600.0 685.6,564.4 688.6,575.4 691.5,612.1 694.5,614.2 697.4,588.0 700.4,590.1 703.4,609.0 706.3,579.1 709.3,633.2 712.2,573.5 715.2,585.3 718.1,600.0 721.1,586.4 724.0,571.8 727.0,582.7 729.9,598.1 732.9,600.0 735.8,568.0 738.8,612.1 741.7,605.1 744.7,580.3 747.6,557.4 750.6,584.0 753.5,588.0 756.5,572.5 759.4,559.6 762.4,588.0 765.3,565.3 768.3,545.0 771.2,600.0 774.2,611.1 777.1,636.1 780.1,606.1 783.0,581.5 786.0,584.0 788.9,569.9 791.9,589.0 794.8,598.1 797.8,607.0 800.7,594.0 803.7,594.0 806.6,610.1 809.6,586.4 812.5,575.4 815.5,544.1 818.4,574.7 821.4,605.1 824.3,577.8 827.3,596.1 830.3,616.1 833.2,635.2 836.2,586.4 839.1,590.1 842.1,594.0 845.0,593.0 848.0,560.6 850.9,612.8 853.9,554.1 856.8,579.7 859.8,595.0 862.7,597.1 865.7,591.1 868.6,574.7 871.6,552.2 874.5,579.1 877.5,593.0 880.4,599.1 883.4,605.1 886.3,617.1 889.3,613.2 892.2,632.1 895.2,606.1 898.1,636.1 901.1,640.2 904.0,623.1 907.0,621.2 909.9,582.7 912.9,575.4 915.8,568.6 918.8,578.4 921.7,585.3 924.7,614.2 927.6,563.3 930.6,556.8 933.5,584.6 936.5,563.3 939.4,600.2 942.4,591.3 945.3,596.2 948.3,589.2 951.3,559.7 954.2,551.8 957.2,601.2 960.1,598.3 963.1,572.3 966.0,554.9 969.0,565.2 971.9,573.1 974.9,594.2 977.8,558.7 980.8,592.3 983.7,598.3 986.7,599.3 989.6,617.3 992.6,555.9 995.5,549.4 998.5,537.0 1001.4,582.8 1001.4,594.1 998.5,548.3 995.5,560.7 992.6,567.2 989.6,628.5 986.7,610.6 983.7,609.6 980.8,603.6 977.8,570.0 974.9,605.5 971.9,584.4 969.0,576.5 966.0,566.2 963.1,583.6 960.1,609.6 957.2,612.5 954.2,563.1 951.3,570.9 948.3,600.5 945.3,607.5 942.4,602.6 939.4,611.4 936.5,574.6 933.5,595.9 930.6,568.1 927.6,574.6 924.7,625.5 921.7,596.6 918.8,589.7 915.8,579.9 912.9,586.7 909.9,594.0 907.0,632.5 904.0,634.4 901.1,651.5 898.1,647.4 895.2,617.4 892.2,643.4 889.3,624.4 886.3,628.4 883.4,616.4 880.4,610.4 877.5,604.3 874.5,590.3 871.6,563.5 868.6,586.0 865.7,602.4 862.7,608.4 859.8,606.3 856.8,591.0 853.9,565.4 850.9,624.1 848.0,571.9 845.0,604.3 842.1,605.3 839.1,601.4 836.2,597.7 833.2,646.5 830.3,627.3 827.3,607.3 824.3,589.1 821.4,616.4 818.4,586.0 815.5,555.3 812.5,586.7 809.6,597.7 806.6,621.4 803.7,605.3 800.7,605.3 797.8,618.3 794.8,609.4 791.9,600.3 788.9,581.1 786.0,595.3 783.0,592.8 780.1,617.4 777.1,647.4 774.2,622.4 771.2,611.3 768.3,556.3 765.3,576.6 762.4,599.3 759.4,570.9 756.5,583.8 753.5,599.3 750.6,595.3 747.6,568.7 744.7,591.6 741.7,616.4 738.8,623.4 735.8,579.3 732.9,611.3 729.9,609.4 727.0,594.0 724.0,583.0 721.1,597.7 718.1,611.3 715.2,596.6 712.2,584.8 709.3,644.4 706.3,590.3 703.4,620.3 700.4,601.4 697.4,599.3 694.5,625.5 691.5,623.4 688.6,586.7 685.6,575.6 682.7,611.3 679.7,613.3 676.8,628.9 673.8,631.0 670.9,623.1 667.9,590.0 665.0,598.7 662.0,607.9 659.1,640.4 656.1,632.0 653.2,619.6 650.2,623.3 647.3,620.8 644.3,639.0 641.4,643.0 638.4,641.1 635.5,638.2 632.5,644.6 629.6,633.2 626.6,627.3 623.7,622.4 620.7,645.6 617.8,655.6 614.8,641.5 611.9,645.5 608.9,658.9 606.0,649.3 603.0,633.2 600.1,631.2 597.1,628.1 594.2,625.9 591.2,604.8 588.3,611.8 585.3,631.9 582.4,619.7 579.4,611.6 576.4,607.6 573.5,604.4 570.5,612.4 567.6,619.3 564.6,603.2 561.7,601.3 558.7,609.2 555.8,610.1 552.8,605.8 549.9,613.2 546.9,613.2 544.0,602.3 541.0,604.1 538.1,621.3 535.1,618.2 532.2,615.3 529.2,603.2 526.3,605.2 523.3,585.2 520.4,581.8 517.4,582.2 514.5,591.2 511.5,620.3 508.6,631.4 505.6,633.3 502.7,648.4 499.7,656.4 496.8,630.4 493.8,610.3 490.9,614.4 487.9,600.4 485.0,579.3 482.0,559.2 479.1,575.3 476.1,591.3 473.2,593.4 470.2,601.4 467.3,591.4 464.3,612.4 461.4,613.1 458.4,606.4 455.4,609.5 452.5,617.4 449.5,609.5 446.6,612.5 443.6,622.6 440.7,597.4 437.7,590.1 434.8,607.5 431.8,647.6 428.9,636.6 425.9,621.6 423.0,609.6 420.0,605.5 417.1,596.1 414.1,604.5 411.2,622.6 408.2,616.7 405.3,604.5 402.3,598.6 399.4,602.7 396.4,607.6 393.5,630.7 390.5,644.8 387.6,641.7 384.6,628.7 381.7,608.7 378.7,590.1 375.8,596.6 372.8,622.7 369.9,635.0 366.9,635.7 364.0,648.7 361.0,635.7 358.1,621.7 355.1,628.7 352.2,619.6 349.2,604.2 346.3,620.6 343.3,638.2 340.4,628.7 337.4,624.6 334.5,611.0 331.5,629.7 328.5,630.7 325.6,623.0 322.6,625.6 319.7,628.6 316.7,635.7 313.8,639.6 310.8,634.6 307.9,647.6 304.9,636.7 302.0,624.5 299.0,628.6 296.1,642.0 293.1,635.6 290.2,626.6 287.2,620.6 284.3,637.2 281.3,633.2 278.4,636.3 275.4,626.5 272.5,613.5 269.5,626.7 266.6,629.4 263.6,628.7 260.7,629.8 257.7,627.7 254.8,622.8 251.8,605.7 248.9,593.7 245.9,608.7 243.0,608.7 240.0,602.7 237.1,603.6 234.1,595.7 231.2,594.7 228.2,629.5 225.3,629.8 222.3,641.8 219.4,653.0 216.4,639.9 213.5,660.1 210.5,690.2 207.5,694.5 204.6,676.1 201.6,648.1 198.7,650.2 195.7,659.3 192.8,664.6 189.8,662.7 186.9,663.3 183.9,656.3 181.0,661.5 178.0,653.5 175.1,662.4 172.1,658.5 169.2,627.4 166.2,570.7 163.3,565.6 160.3,557.6 157.4,548.0 154.4,564.7 151.5,583.8 148.5,564.7 145.6,545.8 142.6,549.7 139.7,556.9 136.7,584.9 133.8,609.9 130.8,622.7 127.9,637.8 124.9,618.8 122.0,619.7 119.0,604.6 116.1,600.7 113.1,598.0 110.2,603.6 107.2,571.4 104.3,578.8 101.3,576.5 98.4,538.6 95.4,535.5 92.5,531.9 89.5,542.2 86.5,536.0 83.6,541.3" fill="#0000ff" fill-opacity="0.15"/>
<polyline points="110.2,584.9 113.1,573.0 116.1,563.9 119.0,553.5 122.0,569.9 124.9,576.9 127.9,594.0 130.8,569.9 133.8,599.0 136.7,588.0 139.7,576.9 142.6,589.0 145.6,576.0 148.5,594.0 151.5,614.0 154.4,594.0 157.4,583.1 160.3,574.0 163.3,579.0 166.2,569.9 169.2,591.9 172.1,618.1 175.1,616.1 178.0,608.0 181.0,610.1 183.9,606.0 186.9,590.1 189.8,587.0 192.8,584.9 195.7,582.0 198.7,589.0 201.6,575.0 204.6,591.9 207.5,613.0 210.5,597.1 213.5,597.1 216.4,579.0 219.4,581.0 222.3,576.9 225.3,584.9 228.2,593.0 231.2,571.9 234.1,570.9 237.1,589.0 240.0,573.0 243.0,587.0 245.9,584.9 248.9,576.9 251.8,576.9 254.8,583.1 257.7,595.0 260.7,590.9 263.6,590.1 266.6,591.9 269.5,580.0 272.5,570.4 275.4,585.5 278.4,588.9 281.3,589.4 284.3,592.8 287.2,577.8 290.2,577.8 293.1,586.8 296.1,582.7 299.0,587.8 302.0,582.7 304.9,594.9 307.9,591.8 310.8,598.8 313.8,593.8 316.7,591.8 319.7,594.9 322.6,598.8 325.6,597.8 328.5,601.9 331.5,600.8 334.5,593.8 337.4,599.8 340.4,597.8 343.3,593.8 346.3,592.8 349.2,578.8 352.2,580.8 355.1,594.9 358.1,587.8 361.0,598.8 364.0,619.0 366.9,611.8 369.9,605.8 372.8,598.8 375.8,606.8 378.7,590.8 381.7,602.9 384.6,608.9 387.6,601.9 390.5,599.8 393.5,600.8 396.4,600.8 399.4,612.8 402.3,596.9 405.3,605.8 408.2,601.9 411.2,598.8 414.1,594.9 417.1,582.7 420.0,588.9 423.0,593.8 425.9,600.8 428.9,593.8 431.8,609.9 434.8,596.9 437.7,584.8 440.7,594.9 443.6,603.9 446.6,591.8 449.5,588.9 452.5,601.9 455.4,604.8 458.4,601.9 461.4,597.4 464.3,594.9 467.3,581.9 470.2,588.5 473.2,590.2 476.1,597.8 479.1,584.8 482.0,575.2 485.0,585.8 487.9,596.9 490.9,599.8 493.8,607.9 496.8,595.9 499.7,609.9 502.7,604.8 505.6,590.8 508.6,593.8 511.5,603.9 514.5,582.7 517.4,591.8 520.4,582.7 523.3,584.8 526.3,589.9 529.2,585.8 532.2,584.8 535.1,593.8 538.1,592.8 541.0,582.7 544.0,591.8 546.9,582.7 549.9,591.8 552.8,582.7 555.8,594.9 558.7,581.9 561.7,593.8 564.6,582.7 567.6,585.8 570.5,585.8 573.5,579.8 576.4,578.8 579.4,581.9 582.4,585.8 585.3,587.8 588.3,611.8 591.2,570.7 594.2,582.7 597.1,580.8 600.1,580.8 603.0,580.8 606.0,584.8 608.9,590.8 611.9,584.8 614.8,584.8 617.8,594.9 620.7,597.8 623.7,582.7 626.6,584.8 629.6,587.8 632.5,589.9 635.5,579.8 638.4,593.8 641.4,580.8 644.3,594.9 647.3,579.8 650.2,582.5 653.2,584.3 656.1,592.3 659.1,596.7 662.0,581.9 665.0,579.8 667.9,570.4 670.9,585.8 673.8,591.8 676.8,589.9 679.7,581.9 682.7,572.8 685.6,574.9 688.6,578.8 691.5,592.8 694.5,582.7 697.4,584.8 700.4,594.9 703.4,597.8 706.3,598.8 709.3,596.9 712.2,593.8 715.2,594.9 718.1,597.8 721.1,596.9 724.0,597.4 727.0,596.9 729.9,597.8 732.9,596.9 735.8,594.9 738.8,594.3 741.7,593.8 744.7,591.8 747.6,590.8 750.6,602.9 753.5,596.9 756.5,606.8 759.4,598.8 762.4,596.9 765.3,594.9 768.3,598.8 771.2,595.9 774.2,604.8 777.1,594.9 780.1,592.8 783.0,580.8 786.0,586.8 788.9,582.7 791.9,581.9 794.8,583.7 797.8,586.8 800.7,590.8 803.7,592.8 806.6,591.8 809.6,586.8 812.5,582.7 815.5,571.1 818.4,584.8 821.4,593.7 824.3,588.9 827.3,591.1 830.3,605.1 833.2,593.8 836.2,591.9 839.1,595.4 842.1,598.8 845.0,594.3 848.0,590.8 850.9,598.3 853.9,584.3 856.8,585.8 859.8,588.9 862.7,580.8 865.7,584.8 868.6,586.8 871.6,590.8 874.5,590.8 877.5,601.9 880.4,593.8 883.4,602.9 886.3,603.9 889.3,603.9 892.2,604.8 895.2,608.9 898.1,611.8 901.1,600.8 904.0,590.8 907.0,593.8 909.9,599.8 912.9,598.8 915.8,590.8 918.8,598.8 921.7,602.9 924.7,596.9" fill="none" stroke="#ff0000" stroke-width="1.15" stroke-linejoin="round"/>
<polyline points="83.6,490.0 86.5,484.0 89.5,489.5 92.5,478.6 95.4,484.0 98.4,489.0 101.3,528.2 104.3,531.8 107.2,526.1 110.2,560.0 113.1,554.8 116.1,557.9 119.0,561.9 122.0,576.9 124.9,576.0 127.9,595.0 130.8,580.0 133.8,567.2 136.7,542.2 139.7,514.1 142.6,507.0 145.6,503.0 148.5,522.0 151.5,541.2 154.4,522.0 157.4,505.4 160.3,515.0 163.3,523.0 166.2,528.2 169.2,584.9 172.1,616.1 175.1,620.0 178.0,611.1 181.0,619.1 183.9,614.0 186.9,621.0 189.8,620.5 192.8,622.4 195.7,617.1 198.7,608.0 201.6,606.0 204.6,634.0 207.5,652.5 210.5,648.2 213.5,618.1 216.4,597.9 219.4,611.1 222.3,600.0 225.3,588.0 228.2,587.7 231.2,553.0 234.1,554.0 237.1,561.9 240.0,561.0 243.0,567.0 245.9,567.0 248.9,551.9 251.8,563.9 254.8,581.0 257.7,586.0 260.7,588.0 263.6,587.0 266.6,587.7 269.5,584.9 272.5,571.8 275.4,584.8 278.4,594.5 281.3,591.4 284.3,595.4 287.2,578.8 290.2,584.8 293.1,593.8 296.1,600.2 299.0,586.8 302.0,582.7 304.9,594.9 307.9,605.8 310.8,592.8 313.8,597.8 316.7,593.8 319.7,586.8 322.6,583.7 325.6,581.2 328.5,588.9 331.5,587.8 334.5,569.2 337.4,582.7 340.4,586.8 343.3,596.4 346.3,578.8 349.2,562.4 352.2,577.8 355.1,586.8 358.1,579.8 361.0,593.8 364.0,606.8 366.9,593.8 369.9,593.1 372.8,580.8 375.8,554.7 378.7,548.2 381.7,566.8 384.6,586.8 387.6,599.8 390.5,602.9 393.5,588.9 396.4,565.8 399.4,560.8 402.3,556.7 405.3,562.7 408.2,574.9 411.2,580.8 414.1,562.7 417.1,554.3 420.0,563.7 423.0,567.8 425.9,579.8 428.9,594.9 431.8,605.8 434.8,565.8 437.7,548.3 440.7,555.7 443.6,580.8 446.6,570.7 449.5,567.8 452.5,575.7 455.4,567.8 458.4,564.8 461.4,571.4 464.3,570.7 467.3,549.7 470.2,559.8 473.2,551.8 476.1,549.7 479.1,533.6 482.0,517.6 485.0,537.7 487.9,558.8 490.9,572.8 493.8,568.7 496.8,588.9 499.7,614.9 502.7,606.8 505.6,591.8 508.6,589.9 511.5,578.8 514.5,549.7 517.4,540.6 520.4,540.3 523.3,543.7 526.3,563.7 529.2,561.7 532.2,573.8 535.1,576.7 538.1,579.8 541.0,562.7 544.0,560.8 546.9,571.8 549.9,571.8 552.8,564.4 555.8,568.7 558.7,567.8 561.7,559.8 564.6,561.7 567.6,577.8 570.5,570.7 573.5,562.7 576.4,565.8 579.4,569.7 582.4,577.8 585.3,589.9 588.3,569.7 591.2,562.7 594.2,583.7 597.1,585.8 600.1,588.9 603.0,590.8 606.0,606.8 608.9,616.4 611.9,602.9 614.8,598.8 617.8,612.8 620.7,602.9 623.7,579.8 626.6,584.8 629.6,590.8 632.5,602.2 635.5,595.9 638.4,598.8 641.4,600.8 644.3,596.9 647.3,578.8 650.2,581.3 653.2,577.8 656.1,590.2 659.1,598.8 662.0,566.3 665.0,557.2 667.9,548.7 670.9,581.9 673.8,589.9 676.8,587.8 679.7,607.7 682.7,605.6 685.6,570.0 688.6,581.0 691.5,617.8 694.5,619.8 697.4,593.7 700.4,595.7 703.4,614.7 706.3,584.7 709.3,638.8 712.2,579.1 715.2,590.9 718.1,605.6 721.1,592.1 724.0,577.4 727.0,588.4 729.9,603.7 732.9,605.6 735.8,573.6 738.8,617.8 741.7,610.8 744.7,586.0 747.6,563.1 750.6,589.6 753.5,593.7 756.5,578.2 759.4,565.3 762.4,593.7 765.3,570.9 768.3,550.7 771.2,605.6 774.2,616.7 777.1,641.7 780.1,611.8 783.0,587.1 786.0,589.6 788.9,575.5 791.9,594.7 794.8,603.7 797.8,612.6 800.7,599.6 803.7,599.6 806.6,615.7 809.6,592.1 812.5,581.0 815.5,549.7 818.4,580.4 821.4,610.8 824.3,583.4 827.3,601.7 830.3,621.7 833.2,640.9 836.2,592.1 839.1,595.7 842.1,599.6 845.0,598.6 848.0,566.2 850.9,618.5 853.9,559.8 856.8,585.3 859.8,600.7 862.7,602.7 865.7,596.7 868.6,580.4 871.6,557.9 874.5,584.7 877.5,598.6 880.4,604.8 883.4,610.8 886.3,622.7 889.3,618.8 892.2,637.8 895.2,611.8 898.1,641.7 901.1,645.8 904.0,628.7 907.0,626.8 909.9,588.4 912.9,581.0 915.8,574.2 918.8,584.1 921.7,590.9 924.7,619.8 927.6,568.9 930.6,562.5 933.5,590.3 936.5,568.9 939.4,605.8 942.4,596.9 945.3,601.9 948.3,594.9 951.3,565.3 954.2,557.4 957.2,606.8 960.1,603.9 963.1,578.0 966.0,560.6 969.0,570.8 971.9,578.7 974.9,599.8 977.8,564.4 980.8,597.9 983.7,603.9 986.7,604.9 989.6,622.9 992.6,561.5 995.5,555.1 998.5,542.6 1001.4,588.5" fill="none" stroke="#0000ff" stroke-width="1.15" stroke-linejoin="round"/>
<polyline points="679.7,606.8 682.7,604.8 685.6,559.8 688.6,572.8 691.5,616.9 694.5,619.0 697.4,592.8 700.4,594.9 703.4,613.8 706.3,578.8 709.3,637.9 712.2,569.7 715.2,588.9 718.1,604.8 721.1,590.8 724.0,567.8 727.0,584.8 729.9,602.9 732.9,604.8 735.8,563.7 738.8,616.9 741.7,609.9 744.7,580.8 747.6,552.3 750.6,586.8 753.5,592.8 756.5,568.7 759.4,554.7 762.4,592.8 765.3,560.8 768.3,538.8 771.2,604.8 774.2,615.9 777.1,640.9 780.1,610.9 783.0,582.7 786.0,586.8 788.9,565.8 791.9,593.8 794.8,602.9 797.8,611.8 800.7,598.8 803.7,598.8 806.6,614.9 809.6,590.8 812.5,572.8 815.5,537.7 818.4,571.8 821.4,609.9 824.3,576.7 827.3,600.8 830.3,620.8 833.2,640.0 836.2,590.8 839.1,594.9 842.1,598.8 845.0,597.8 848.0,555.7 850.9,617.6 853.9,548.7 856.8,579.8 859.8,599.8 862.7,601.9 865.7,595.9 868.6,571.8 871.6,546.6 874.5,578.8 877.5,597.8 880.4,603.9 883.4,609.9 886.3,621.9 889.3,617.9 892.2,636.9 895.2,610.9 898.1,640.9 901.1,645.0 904.0,627.9 907.0,626.0 909.9,584.8 912.9,572.8 915.8,564.4 918.8,577.8 921.7,588.9 924.7,619.0 927.6,564.8 930.6,557.8 933.5,588.9 936.5,564.8 939.4,604.8 942.4,595.9 945.3,600.8 948.3,593.8 951.3,560.8 954.2,552.3 957.2,605.8 960.1,602.9 963.1,574.9 966.0,555.7 969.0,566.8 971.9,575.7 974.9,598.8 977.8,559.8 980.8,596.9 983.7,602.9 986.7,603.9 989.6,621.9 992.6,556.7 995.5,549.7 998.5,536.2 1001.4,586.8" fill="none" stroke="#000000" stroke-width="1.0" stroke-linejoin="round"/>
<line x1="83.7" y1="583.4" x2="1001.4" y2="583.4" stroke="#000" stroke-width="1"/>
</g>
<rect x="83.7" y="424.7" width="917.7" height="328.1" fill="none" stroke="#222" stroke-width="1.1"/>
<path d="M86.5 424.7V414.1M86.5 752.8V763.4M116.1 424.7V419.1M116.1 752.8V758.4M145.6 424.7V419.1M145.6 752.8V758.4M175.1 424.7V419.1M175.1 752.8V758.4M204.6 424.7V419.1M204.6 752.8V758.4M234.1 424.7V414.1M234.1 752.8V763.4M263.6 424.7V419.1M263.6 752.8V758.4M293.1 424.7V419.1M293.1 752.8V758.4M322.6 424.7V419.1M322.6 752.8V758.4M352.2 424.7V419.1M352.2 752.8V758.4M381.7 424.7V414.1M381.7 752.8V763.4M411.2 424.7V419.1M411.2 752.8V758.4M440.7 424.7V419.1M440.7 752.8V758.4M470.2 424.7V419.1M470.2 752.8V758.4M499.7 424.7V419.1M499.7 752.8V758.4M529.2 424.7V414.1M529.2 752.8V763.4M558.7 424.7V419.1M558.7 752.8V758.4M588.3 424.7V419.1M588.3 752.8V758.4M617.8 424.7V419.1M617.8 752.8V758.4M647.3 424.7V419.1M647.3 752.8V758.4M676.8 424.7V414.1M676.8 752.8V763.4M706.3 424.7V419.1M706.3 752.8V758.4M735.8 424.7V419.1M735.8 752.8V758.4M765.3 424.7V419.1M765.3 752.8V758.4M794.8 424.7V419.1M794.8 752.8V758.4M824.3 424.7V414.1M824.3 752.8V763.4M853.9 424.7V419.1M853.9 752.8V758.4M883.4 424.7V419.1M883.4 752.8V758.4M912.9 424.7V419.1M912.9 752.8V758.4M942.4 424.7V419.1M942.4 752.8V758.4M971.9 424.7V414.1M971.9 752.8V763.4M1001.4 424.7V419.1M1001.4 752.8V758.4M83.7 737.3H78.3M1001.4 737.3H1006.8M83.7 720.2H73.5M1001.4 720.2H1011.6M83.7 703.1H78.3M1001.4 703.1H1006.8M83.7 686.0H73.5M1001.4 686.0H1011.6M83.7 668.9H78.3M1001.4 668.9H1006.8M83.7 651.8H73.5M1001.4 651.8H1011.6M83.7 634.7H78.3M1001.4 634.7H1006.8M83.7 617.6H73.5M1001.4 617.6H1011.6M83.7 600.5H78.3M1001.4 600.5H1006.8M83.7 583.4H73.5M1001.4 583.4H1011.6M83.7 566.3H78.3M1001.4 566.3H1006.8M83.7 549.2H73.5M1001.4 549.2H1011.6M83.7 532.1H78.3M1001.4 532.1H1006.8M83.7 515.0H73.5M1001.4 515.0H1011.6M83.7 497.9H78.3M1001.4 497.9H1006.8M83.7 480.8H73.5M1001.4 480.8H1011.6M83.7 463.7H78.3M1001.4 463.7H1006.8M83.7 446.6H73.5M1001.4 446.6H1011.6M83.7 429.5H78.3M1001.4 429.5H1006.8" stroke="#222" stroke-width="1.1" fill="none"/>
<path d="M83.7 617.6H73.5M1001.4 617.6H1011.6M971.9 424.7V414.1M971.9 752.8V763.4" stroke="#000" stroke-width="1.7" fill="none"/>
<g filter="url(#gs)">
<text transform="translate(87.3,785.8) scale(1,1.065)" text-anchor="middle" textLength="41.6" lengthAdjust="spacingAndGlyphs">1700</text>
<text transform="translate(234.9,785.8) scale(1,1.065)" text-anchor="middle" textLength="41.6" lengthAdjust="spacingAndGlyphs">1750</text>
<text transform="translate(382.5,785.8) scale(1,1.065)" text-anchor="middle" textLength="41.6" lengthAdjust="spacingAndGlyphs">1800</text>
<text transform="translate(530.0,785.8) scale(1,1.065)" text-anchor="middle" textLength="41.6" lengthAdjust="spacingAndGlyphs">1850</text>
<text transform="translate(677.6,785.8) scale(1,1.065)" text-anchor="middle" textLength="41.6" lengthAdjust="spacingAndGlyphs">1900</text>
<text transform="translate(825.1,785.8) scale(1,1.065)" text-anchor="middle" textLength="41.6" lengthAdjust="spacingAndGlyphs">1950</text>
<text transform="translate(972.7,785.8) scale(1,1.065)" text-anchor="middle" textLength="41.6" lengthAdjust="spacingAndGlyphs">2000</text>
<text transform="translate(67.2,728.5) scale(1,1.065)" text-anchor="end">8</text>
<line x1="42.8" x2="56.2" y1="721.5" y2="721.5" stroke="#111" stroke-width="1"/>
<text transform="translate(67.2,694.3) scale(1,1.065)" text-anchor="end">6</text>
<line x1="42.8" x2="56.2" y1="687.3" y2="687.3" stroke="#111" stroke-width="1"/>
<text transform="translate(67.2,660.1) scale(1,1.065)" text-anchor="end">4</text>
<line x1="42.8" x2="56.2" y1="653.1" y2="653.1" stroke="#111" stroke-width="1"/>
<text transform="translate(67.2,625.9) scale(1,1.065)" text-anchor="end">2</text>
<line x1="42.8" x2="56.2" y1="618.9" y2="618.9" stroke="#111" stroke-width="1"/>
<text transform="translate(67.2,591.7) scale(1,1.065)" text-anchor="end">0</text>
<text transform="translate(67.2,557.5) scale(1,1.065)" text-anchor="end">2</text>
<text transform="translate(67.2,523.3) scale(1,1.065)" text-anchor="end">4</text>
<text transform="translate(67.2,489.1) scale(1,1.065)" text-anchor="end">6</text>
<text transform="translate(67.2,454.9) scale(1,1.065)" text-anchor="end">8</text>
<text transform="translate(542.3,809.1) scale(1,1.065)" text-anchor="middle" textLength="75.2" lengthAdjust="spacingAndGlyphs">year CE</text>
<text transform="translate(26.5,589.5) rotate(-90) scale(1,1.065)" text-anchor="middle" textLength="236.0" lengthAdjust="spacingAndGlyphs">Mean Irish scPDSI (JJA)</text>
</g>
</svg>
</body></html>
